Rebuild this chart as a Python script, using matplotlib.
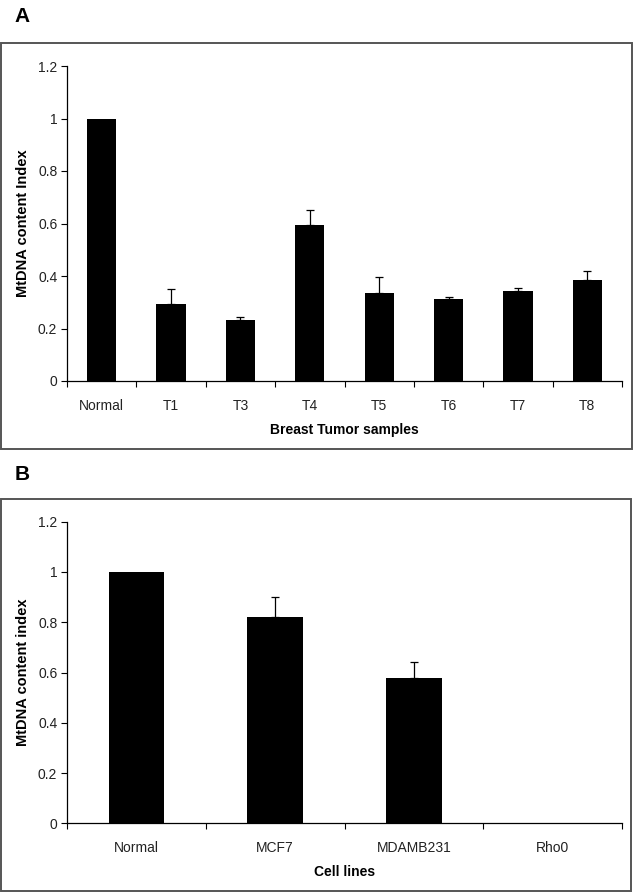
import matplotlib
matplotlib.use("Agg")
import matplotlib.pyplot as plt
from matplotlib.patches import Rectangle
from matplotlib.ticker import FuncFormatter

# ─── Data ─────────────────────────────────────────────────────────────────────
tumor_labels = ["Normal", "T1", "T3", "T4", "T5", "T6", "T7", "T8"]
tumor_values = [1.0, 0.292, 0.232, 0.594, 0.336, 0.313, 0.342, 0.385]
tumor_errors = [0.0, 0.060, 0.010, 0.056, 0.060, 0.008, 0.011, 0.033]

cell_labels = ["Normal", "MCF7", "MDAMB231", "Rho0"]
cell_values = [1.0, 0.82, 0.577, 0.0]
cell_errors = [0.0, 0.08, 0.063, 0.0]

y_ticks = [0, 0.2, 0.4, 0.6, 0.8, 1.0, 1.2]

# ─── Style ────────────────────────────────────────────────────────────────────
plt.rcParams.update({
    "font.family": ["Liberation Sans", "DejaVu Sans"],
    "font.size": 10,
})

W, H = 635, 894
fig = plt.figure(figsize=(W / 100, H / 100), dpi=100)


def fx(px):
    return px / W


def fy(py):
    return 1 - py / H


def frame(x0, y0, x1, y1):
    fig.patches.append(Rectangle((fx(x0), fy(y1)), fx(x1) - fx(x0), fy(y0) - fy(y1),
                                 transform=fig.transFigure, fill=False,
                                 edgecolor="#555555", linewidth=1.4))


def fmt(v, _):
    return f"{v:g}"


def panel(rect, labels, values, errors, width, xlabel, ylabel):
    ax = fig.add_axes(rect)
    n = len(labels)
    xs = list(range(n))
    ax.bar(xs, values, width=width, color="black", zorder=2)
    # error bars only where there is a spread (upper side only)
    ex = [x for x, e in zip(xs, errors) if e > 0]
    ev = [v for v, e in zip(values, errors) if e > 0]
    ee = [e for e in errors if e > 0]
    ax.errorbar(ex, ev, yerr=[[0] * len(ee), ee], fmt="none", ecolor="black",
                elinewidth=0.9, capsize=3, capthick=0.9, zorder=1)
    ax.set_xlim(-0.5, n - 0.5)
    ax.set_ylim(0, 1.2)
    ax.set_yticks(y_ticks)
    ax.yaxis.set_major_formatter(FuncFormatter(fmt))
    ax.set_xticks(xs)
    ax.set_xticklabels(labels)
    ax.set_xticks([i - 0.5 for i in range(n + 1)], minor=True)
    ax.tick_params(axis="x", which="major", length=0, pad=13, labelcolor="#222222")
    ax.tick_params(axis="x", which="minor", length=4, width=0.8, direction="out")
    ax.tick_params(axis="y", length=4, width=0.8, labelcolor="#222222", pad=3)
    for s in ("top", "right"):
        ax.spines[s].set_visible(False)
    for s in ("left", "bottom"):
        ax.spines[s].set_linewidth(0.9)
    ax.set_xlabel(xlabel, fontweight="bold", fontsize=10, labelpad=7)
    ax.set_ylabel(ylabel, fontweight="bold", fontsize=10.5, labelpad=6)
    return ax


# ── Panel A ──────────────────────────────────────────────────────────────────
frame(1, 43, 632, 449)
fig.text(fx(22), fy(16), "A", fontsize=15, fontweight="bold", ha="center", va="center")
panel([fx(67), fy(381), fx(622) - fx(67), fy(66) - fy(381)],
      tumor_labels, tumor_values, tumor_errors, 0.42,
      "Breast Tumor samples", "MtDNA content Index")

# ── Panel B ──────────────────────────────────────────────────────────────────
frame(1, 499, 631, 891)
fig.text(fx(22), fy(475), "B", fontsize=15, fontweight="bold", ha="center", va="center")
panel([fx(67), fy(823.3), fx(622) - fx(67), fy(521.7) - fy(823.3)],
      cell_labels, cell_values, cell_errors, 0.40,
      "Cell lines", "MtDNA content index")

fig.savefig("out.png", dpi=100, facecolor="white")
